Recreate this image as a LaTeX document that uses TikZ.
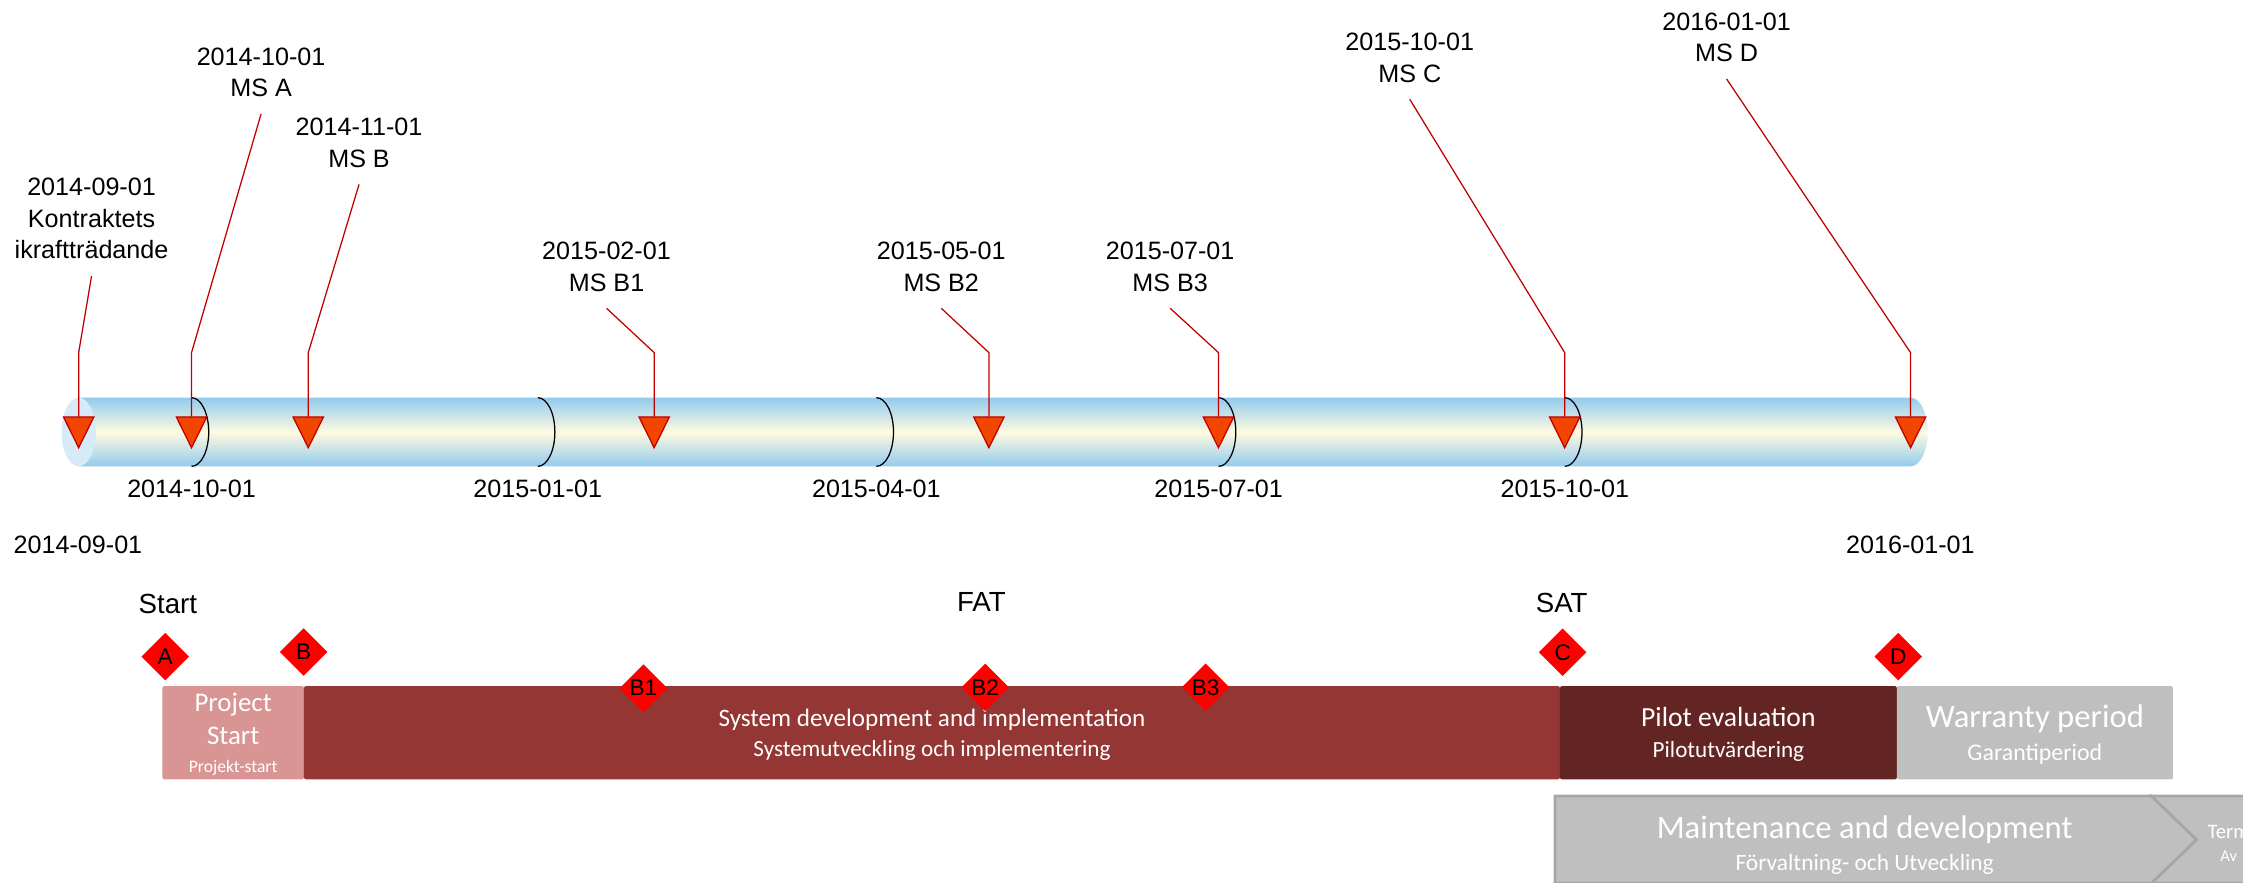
\documentclass[tikz,border=0pt]{standalone}
\usepackage{fontspec}
\setmainfont{Liberation Sans}
\newfontfamily\calibri{Carlito}
\usetikzlibrary{arrows.meta,shapes.geometric}

\definecolor{tubeblue}{RGB}{146,203,238}
\definecolor{tubecream}{RGB}{255,250,224}
\definecolor{tubeend}{RGB}{214,234,248}
\definecolor{msred}{RGB}{192,0,0}
\definecolor{msorange}{RGB}{242,70,0}
\definecolor{projpink}{RGB}{217,149,148}
\definecolor{devred}{RGB}{148,54,52}
\definecolor{pilotred}{RGB}{99,37,35}
\definecolor{warrgray}{RGB}{191,191,191}
\definecolor{chevedge}{RGB}{166,166,166}

\begin{document}
\begin{tikzpicture}[x=0.2mm,y=-0.2mm,
	mslabel/.style={align=center,anchor=south,inner sep=0pt,inner ysep=6.5pt,font=\fontsize{10}{12.6}\selectfont},
	msline/.style={msred,line width=0.5pt,-{Triangle[width=4.5mm,length=4.6mm,fill=msorange]}},
	sep/.style={black,line width=0.5pt},
	datelbl/.style={font=\fontsize{10}{12}\selectfont},
	phaselbl/.style={font=\fontsize{11}{13}\selectfont},
	gate/.style={diamond,fill=red,inner sep=0pt,minimum size=6.7mm,font=\fontsize{9}{10}\selectfont},
	phase/.style={rectangle,inner sep=0pt,outer sep=0pt,minimum height=13.04mm,text=white,align=center,text depth=-2pt,rounded corners=0.8pt},
	chev/.style={fill=warrgray,draw=chevedge,line width=1.1pt}]
	
	\useasboundingbox (0,0) rectangle (1568,617);
	
	\shade[top color=tubeblue,bottom color=tubeblue,middle color=tubecream]
		(55,278) -- (1335.6,278) arc[start angle=-90,end angle=90,x radius=12,y radius=24] -- (55,326) -- cycle;
	\fill[tubeend] (55,302) ellipse [x radius=12,y radius=24];
	
	\foreach \x/\d [count=\i] in {133.9/2014-10-01,375.9/2015-01-01,612.6/2015-04-01,851.9/2015-07-01,1093.9/2015-10-01}
	{
		\draw[sep] (\x,278) arc[start angle=-90,end angle=90,x radius=12,y radius=24];
		\node[datelbl] (d\i) at (\x,342) {\d};
	}
	\node[datelbl] (dstart) at (54.5,381) {2014-09-01};
	\node[datelbl] (dend) at (1335.5,381) {2016-01-01};
	
	\foreach \n/\x/\lx/\ly/\txt in {
		0/55/64/193/{2014-09-01\\Kontraktets\\ikraftträdande},
		A/133.9/182.5/79.7/{2014-10-01\\MS A},
		B/215.5/251/128.9/{2014-11-01\\MS B},
		B1/457.3/424/215.5/{2015-02-01\\MS B1},
		B2/691.3/658/215.5/{2015-05-01\\MS B2},
		B3/851.8/818/215.5/{2015-07-01\\MS B3},
		C/1093.8/985.5/69.4/{2015-10-01\\MS C},
		D/1335.6/1207/55.2/{2016-01-01\\MS D}}
	{
		\node[mslabel] (lab\n) at (\lx,\ly) {\txt};
		\coordinate (k\n) at (\x,246.5);
		\coordinate (t\n) at (\x,314);
		\draw[msline] (lab\n.south) -- (k\n) -- (t\n);
	}
	
	\node[phaselbl] (start) at (117.4,422) {Start};
	\node[phaselbl] (fat) at (686,421) {FAT};
	\node[phaselbl] (sat) at (1091.7,421.8) {SAT};
	
	\node[phase,fill=projpink,minimum width=19.8mm,font=\calibri\fontsize{10.7}{13.2}\selectfont] (proj) at (163,512.2)
		{Project\\Start\\[-2.3pt]{\fontsize{7}{8}\selectfont Projekt-start}};
	\node[phase,fill=devred,minimum width=175.6mm,font=\calibri\fontsize{9.2}{11.6}\selectfont] (dev) at (651.5,512.2)
		{{\fontsize{10}{12}\selectfont System development and implementation}\\Systemutveckling och implementering};
	\node[phase,fill=pilotred,minimum width=47.1mm,font=\calibri\fontsize{9.2}{12.4}\selectfont] (pilot) at (1208.25,512.2)
		{{\fontsize{11}{13}\selectfont Pilot evaluation}\\Pilotutvärdering};
	\node[phase,fill=warrgray,minimum width=38.6mm,font=\calibri\fontsize{9.5}{13}\selectfont] (warr) at (1422.5,512.2)
		{{\fontsize{13}{15}\selectfont Warranty period}\\Garantiperiod};
	
	\draw[chev] (1087,556.5) -- (1504,556.5) -- (1535.6,587) -- (1504,617.5) -- (1087,617.5) -- cycle;
	\draw[chev] (1504,556.5) -- (1640,556.5) -- (1640,617.5) -- (1504,617.5) -- (1535.6,587) -- cycle;
	\node[text=white,align=center,font=\calibri\fontsize{9.3}{12.9}\selectfont] (maint) at (1303.5,591)
		{{\fontsize{13}{15}\selectfont Maintenance and development}\\Förvaltning- och Utveckling};
	\node[text=white,align=center,font=\calibri\fontsize{6.6}{9}\selectfont] (term) at (1558,589.5)
		{{\fontsize{8.2}{9}\selectfont Term}\\Av};
	
	\foreach \n/\x/\y in {A/115.5/459,B/212.2/455.8,B1/449.8/481,B2/688.7/480.5,B3/842.8/480.5,C/1092.4/456,D/1327/459}
		\node[gate] (g\n) at (\x,\y) {\n};
\end{tikzpicture}
\end{document}
